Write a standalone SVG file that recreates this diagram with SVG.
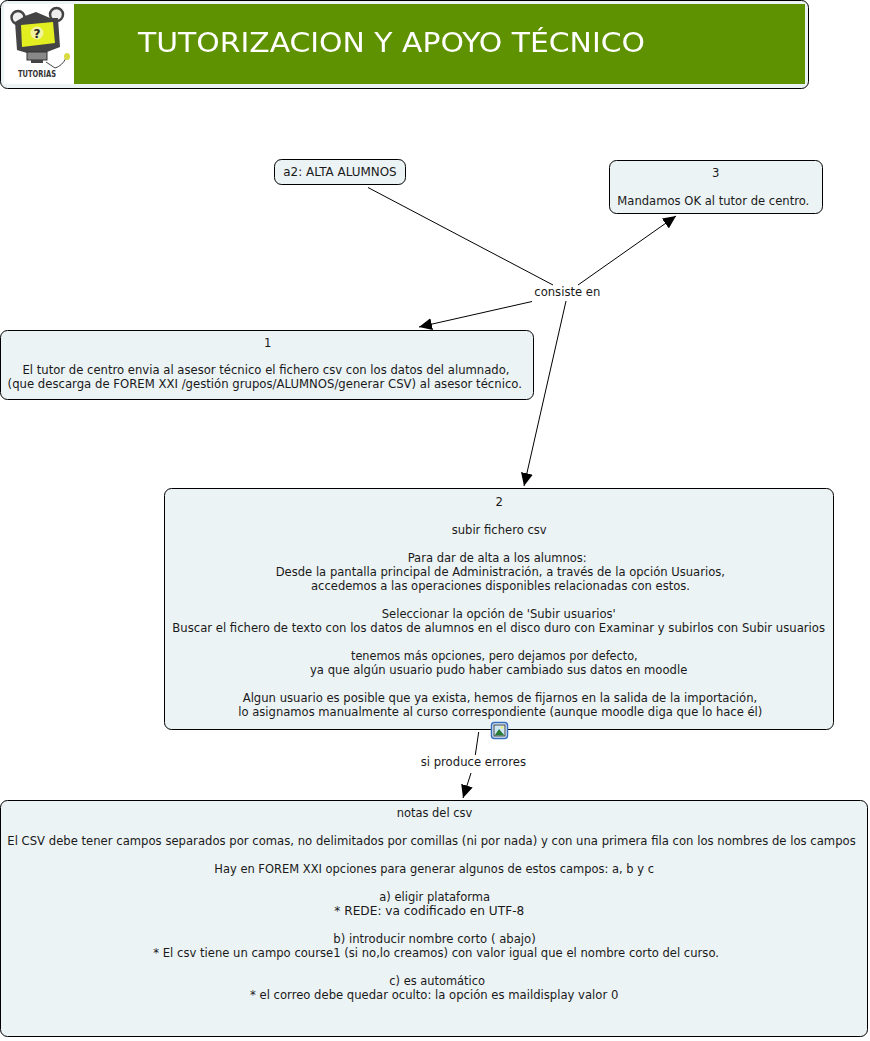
<svg xmlns="http://www.w3.org/2000/svg" width="870" height="1041" viewBox="0 0 870 1041">
<style>
.n{fill:#ecf3f5;stroke:#000;stroke-width:1}
.t{font-family:"DejaVu Sans",sans-serif;font-size:11.65px;fill:#1a1a1a}
.c{stroke:#000;stroke-width:1;fill:none}
</style>
<defs>
<marker id="a" markerUnits="userSpaceOnUse" markerWidth="14" markerHeight="12" refX="13" refY="6" orient="auto"><path d="M0 0L13 6L0 12Z" fill="#000"/></marker>
<filter id="soft" x="-5%" y="-20%" width="110%" height="140%"><feGaussianBlur stdDeviation="0.35"/></filter>
</defs>
<rect width="870" height="1041" fill="#fff"/>
<g id="header">
<rect class="n" x="0.5" y="0.5" width="808" height="88" rx="7"/>
<rect x="4" y="4" width="70" height="80" fill="#fff"/>
<rect x="74" y="4" width="731" height="80" fill="#5f9200"/>
<text x="138" y="51.500" font-family="'DejaVu Sans',sans-serif" font-size="27" fill="#fff" textLength="507" lengthAdjust="spacingAndGlyphs" filter="url(#soft)">TUTORIZACION Y APOYO TÉCNICO</text>
<g id="logo">
<circle cx="18" cy="17.500" r="6.500" fill="#eee" stroke="#444" stroke-width="2.500"/>
<circle cx="56.500" cy="14.500" r="6.500" fill="#eee" stroke="#444" stroke-width="2.500"/>
<path d="M15 22L25 16L36 12L50 18L58 18L60 47L47 52L27 53L17 50Z" fill="#444"/>
<path d="M21 25L53 22L55 43L22 47Z" fill="#e2ee20"/>
<circle cx="37" cy="33" r="6.500" fill="#f2f2a0"/>
<text x="37" y="37.500" font-family="'DejaVu Sans',sans-serif" font-size="12" font-weight="bold" text-anchor="middle" fill="#222">?</text>
<rect x="27" y="52" width="20" height="8" fill="#888" stroke="#333"/>
<rect x="31" y="60" width="12" height="3" fill="#444"/>
<path d="M46 62L55 68Q62 66 66 58" fill="none" stroke="#444"/>
<ellipse cx="67" cy="56.500" rx="3" ry="3.500" fill="#d8dc40"/>
<text x="18" y="76.500" font-family="'DejaVu Sans',sans-serif" font-size="8" font-weight="bold" fill="#333" textLength="38" lengthAdjust="spacingAndGlyphs">TUTORIAS</text>
</g>
</g>
<g id="connectors">
<path class="c" d="M368 187.500L553 285"/>
<path class="c" d="M578 285L676 216" marker-end="url(#a)"/>
<path class="c" d="M532 301.500L419 327" marker-end="url(#a)"/>
<path class="c" d="M566 301L524 486" marker-end="url(#a)"/>
<path class="c" d="M478.700 732L475.300 755"/>
<path class="c" d="M471 773L463 798" marker-end="url(#a)"/>
</g>
<g id="label-consiste"><text class="t" x="534.300" y="296" textLength="66" lengthAdjust="spacingAndGlyphs">consiste en</text></g>
<g id="label-errores"><text class="t" x="420.700" y="766" textLength="105.300" lengthAdjust="spacingAndGlyphs">si produce errores</text></g>
<g id="node-a2"><rect class="n" x="274.500" y="159.500" width="131" height="25" rx="7"/><text class="t" x="283.300" y="176" textLength="113.400" lengthAdjust="spacingAndGlyphs">a2: ALTA ALUMNOS</text></g>
<g id="node-3"><rect class="n" x="609.500" y="160.500" width="213" height="53" rx="7"/>
<text class="t" x="712" y="177">3</text><text class="t" x="617.300" y="205" textLength="192" lengthAdjust="spacingAndGlyphs">Mandamos OK al tutor de centro.</text></g>
<g id="node-1"><rect class="n" x="0.500" y="330.500" width="533" height="69" rx="7"/>
<text class="t" x="264" y="347">1</text>
<text class="t" x="22.500" y="374" textLength="487" lengthAdjust="spacingAndGlyphs">El tutor de centro envia al asesor técnico el fichero csv con los datos del alumnado,</text>
<text class="t" x="7.600" y="388" textLength="514.400" lengthAdjust="spacingAndGlyphs">(que descarga de FOREM XXI /gestión grupos/ALUMNOS/generar CSV) al asesor técnico.</text></g>
<g id="node-2"><rect class="n" x="164.500" y="488.500" width="669" height="241" rx="7"/>
<text class="t" x="495.500" y="506">2</text>
<text class="t" x="451.700" y="534" textLength="95" lengthAdjust="spacingAndGlyphs">subir fichero csv</text>
<text class="t" x="407.700" y="562" textLength="179" lengthAdjust="spacingAndGlyphs">Para dar de alta a los alumnos:</text>
<text class="t" x="275.700" y="576" textLength="449.300" lengthAdjust="spacingAndGlyphs">Desde la pantalla principal de Administración, a través de la opción Usuarios,</text>
<text class="t" x="311" y="590" textLength="379" lengthAdjust="spacingAndGlyphs">accedemos a las operaciones disponibles relacionadas con estos.</text>
<text class="t" x="381.700" y="618" textLength="234" lengthAdjust="spacingAndGlyphs">Seleccionar la opción de 'Subir usuarios'</text>
<text class="t" x="172.300" y="632" textLength="652.700" lengthAdjust="spacingAndGlyphs">Buscar el fichero de texto con los datos de alumnos en el disco duro con Examinar y subirlos con Subir usuarios</text>
<text class="t" x="351" y="660" textLength="286.700" lengthAdjust="spacingAndGlyphs">tenemos más opciones, pero dejamos por defecto,</text>
<text class="t" x="310" y="674" textLength="377.300" lengthAdjust="spacingAndGlyphs">ya que algún usuario pudo haber cambiado sus datos en moodle</text>
<text class="t" x="242.700" y="702" textLength="514.600" lengthAdjust="spacingAndGlyphs">Algun usuario es posible que ya exista, hemos de fijarnos en la salida de la importación,</text>
<text class="t" x="238.300" y="716" textLength="524" lengthAdjust="spacingAndGlyphs">lo asignamos manualmente al curso correspondiente (aunque moodle diga que lo hace él)</text>
<g id="icon"><rect x="491.500" y="722.500" width="16" height="16" rx="3" fill="#dce8f5" stroke="#3a6fc0" stroke-width="1.500"/><rect x="494" y="725" width="11" height="11" fill="#cfe6f5" stroke="#222" stroke-width=".8"/><path d="M494.500 735.500L499 729L504.500 735.500Z" fill="#2a7a3a"/><circle cx="502" cy="727.500" r="1.300" fill="#ee6"/></g>
</g>
<g id="node-notas"><rect class="n" x="0.500" y="800.500" width="867" height="236" rx="7"/>
<text class="t" x="396.700" y="817" textLength="75.600" lengthAdjust="spacingAndGlyphs">notas del csv</text>
<text class="t" x="7.300" y="845" textLength="848.400" lengthAdjust="spacingAndGlyphs">El CSV debe tener campos separados por comas, no delimitados por comillas (ni por nada) y con una primera fila con los nombres de los campos</text>
<text class="t" x="214.300" y="873" textLength="439.700" lengthAdjust="spacingAndGlyphs">Hay en FOREM XXI opciones para generar algunos de estos campos: a, b y c</text>
<text class="t" x="379.300" y="901" textLength="110.700" lengthAdjust="spacingAndGlyphs">a) eligir plataforma</text>
<text class="t" x="334.300" y="915" textLength="190" lengthAdjust="spacingAndGlyphs">* REDE: va codificado en UTF-8</text>
<text class="t" x="333.300" y="943" textLength="202.400" lengthAdjust="spacingAndGlyphs">b) introducir nombre corto ( abajo)</text>
<text class="t" x="153.300" y="957" textLength="565.700" lengthAdjust="spacingAndGlyphs">* El csv tiene un campo course1 (si no,lo creamos) con valor igual que el nombre corto del curso.</text>
<text class="t" x="389.300" y="985" textLength="95.700" lengthAdjust="spacingAndGlyphs">c) es automático</text>
<text class="t" x="250" y="999" textLength="368.300" lengthAdjust="spacingAndGlyphs">* el correo debe quedar oculto: la opción es maildisplay valor 0</text>
</g>
</svg>
